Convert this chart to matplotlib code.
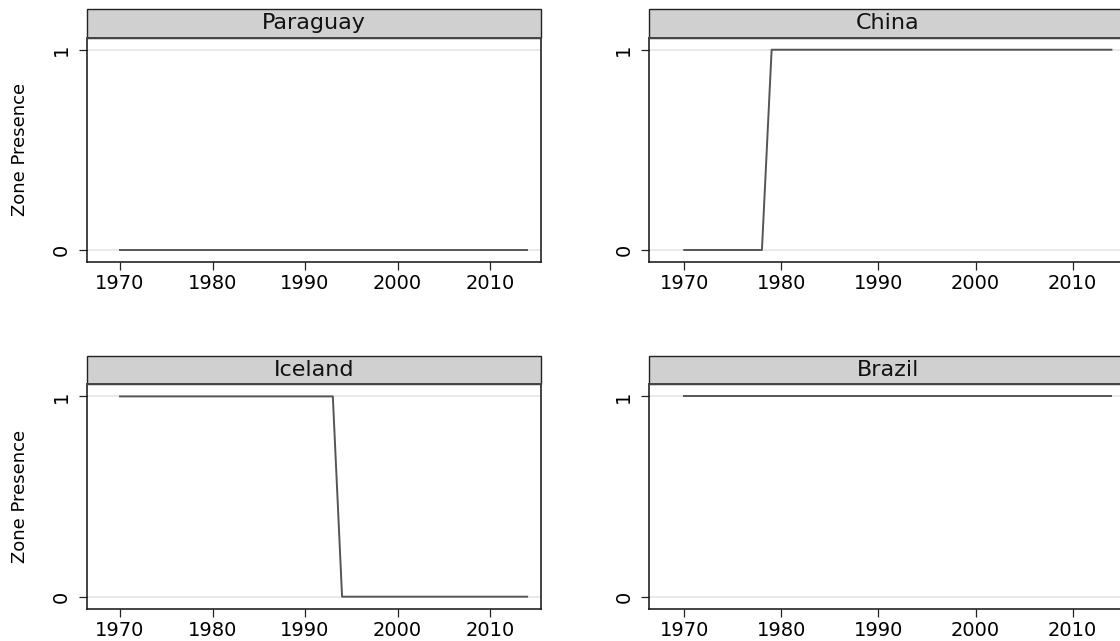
import matplotlib
matplotlib.use("Agg")
import matplotlib.pyplot as plt
from matplotlib.patches import Rectangle

plt.rcParams['font.family'] = ['DejaVu Sans']

years = list(range(1970, 2015))

countries = ["Paraguay", "China", "Iceland", "Brazil"]

paraguay = [0, 0, 0, 0, 0, 0, 0, 0, 0, 0,
            0, 0, 0, 0, 0, 0, 0, 0, 0, 0,
            0, 0, 0, 0, 0, 0, 0, 0, 0, 0,
            0, 0, 0, 0, 0, 0, 0, 0, 0, 0,
            0, 0, 0, 0, 0]
china = [0, 0, 0, 0, 0, 0, 0, 0, 0, 1,
         1, 1, 1, 1, 1, 1, 1, 1, 1, 1,
         1, 1, 1, 1, 1, 1, 1, 1, 1, 1,
         1, 1, 1, 1, 1, 1, 1, 1, 1, 1,
         1, 1, 1, 1, 1]
iceland = [1, 1, 1, 1, 1, 1, 1, 1, 1, 1,
           1, 1, 1, 1, 1, 1, 1, 1, 1, 1,
           1, 1, 1, 1, 0, 0, 0, 0, 0, 0,
           0, 0, 0, 0, 0, 0, 0, 0, 0, 0,
           0, 0, 0, 0, 0]
brazil = [1, 1, 1, 1, 1, 1, 1, 1, 1, 1,
          1, 1, 1, 1, 1, 1, 1, 1, 1, 1,
          1, 1, 1, 1, 1, 1, 1, 1, 1, 1,
          1, 1, 1, 1, 1, 1, 1, 1, 1, 1,
          1, 1, 1, 1, 1]
series = [paraguay, china, iceland, brazil]

xticks = [1970, 1980, 1990, 2000, 2010]
yticks = [0, 1]
ylabel = "Zone Presence"

W, H = 1120, 641
fig = plt.figure(figsize=(W / 100, H / 100), dpi=100)

# axes boxes in pixels: (left, right, top, bottom) measured from top-left
boxes = [
    (86.7, 541.0, 37.7, 262.0),
    (649.3, 1126.0, 37.7, 262.0),
    (86.7, 541.0, 384.4, 608.7),
    (649.3, 1126.0, 384.4, 608.7),
]
strip_h_px = 28.7

for i, (name, vals) in enumerate(zip(countries, series)):
    l, r, t, b = boxes[i]
    ax = fig.add_axes([l / W, 1 - b / H, (r - l) / W, (b - t) / H])
    ax.set_xlim(1966.4, 2015.5)
    ax.set_ylim(-0.06, 1.06)
    for yv in yticks:
        ax.axhline(yv, color='#e3e3e3', lw=1.1, zorder=1)
    ax.plot(years, vals, color='#555555', lw=1.4, zorder=3)
    ax.set_xticks(xticks)
    ax.set_xticklabels([str(x) for x in xticks])
    ax.set_yticks(yticks)
    ax.set_yticklabels([str(y) for y in yticks], rotation=90, va='center')
    ax.tick_params(axis='both', length=5.5, width=0.9, color='#222222',
                   labelsize=14, pad=3)
    ax.tick_params(axis='y', pad=6)
    for s in ax.spines.values():
        s.set_linewidth(1.1)
        s.set_color('#111111')
    ax.spines['top'].set_color('#444444')
    ax.spines['top'].set_linewidth(1.4)
    hfrac = strip_h_px / (b - t)
    ax.add_patch(Rectangle((0, 1), 1, hfrac, transform=ax.transAxes,
                           clip_on=False, facecolor='#d0d0d0',
                           edgecolor='#222222', lw=1.0, zorder=0))
    ax.text(0.5, 1 + hfrac / 2, name, transform=ax.transAxes,
            ha='center', va='center', fontsize=16, color='#111111')
    if i % 2 == 0:
        ax.set_ylabel(ylabel, fontsize=13)
        ax.yaxis.set_label_coords(-0.126, 0.5)

fig.savefig("out.png", dpi=100)
